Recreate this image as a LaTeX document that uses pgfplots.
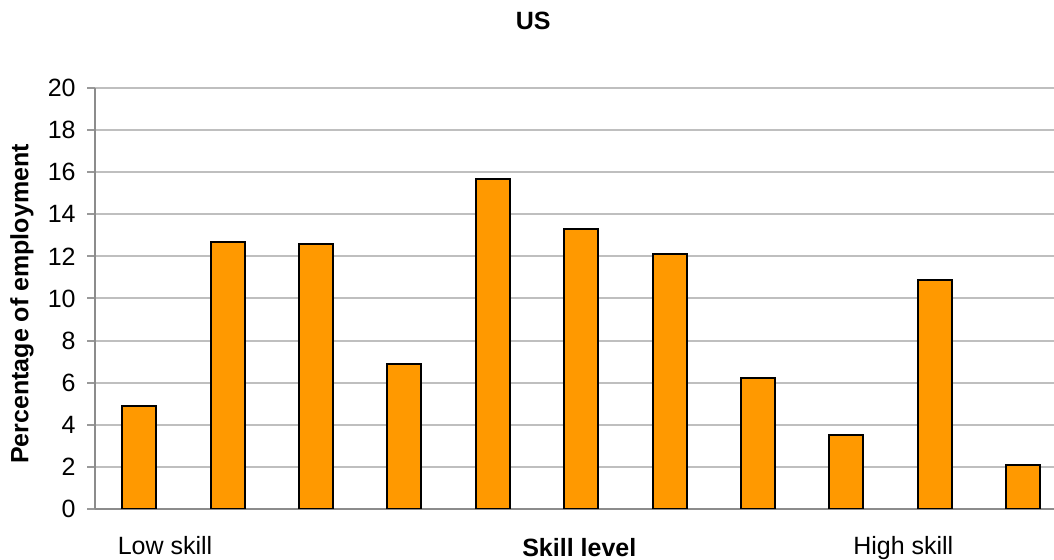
\documentclass[border=0pt]{standalone}
\usepackage{pgfplots}
\pgfplotsset{compat=1.18}
\usepackage{fontspec}
\setmainfont{Liberation Sans}
\definecolor{barorange}{HTML}{FF9900}
\begin{document}
\fontsize{12.5}{14}\selectfont
\begin{tikzpicture}
\begin{axis}[
  scale only axis, width=479.5pt, height=210.5pt,
  xmin=-0.5, xmax=10.35, ymin=0, ymax=20,
  ytick={0,2,...,20},
  xtick={0.292,8.645}, xticklabels={Low skill, High skill},
  major x tick style={draw=none},
  axis x line*=bottom, axis y line*=left,
  axis line style={draw=black!45, line width=1pt, -},
  ymajorgrids, grid style={draw=black!25, line width=1pt},
  major y tick style={draw=black!40, line width=1pt},
  tick align=outside, major tick length=4pt,
  /pgf/number format/assume math mode=true,
  tick label style={font=\fontsize{12.5}{14}\selectfont},
  yticklabel style={anchor=east, inner sep=0pt, xshift=-5.5pt},
  xticklabel style={anchor=base, inner sep=0pt, yshift=-19pt},
  ybar, bar width=17pt,
  title={US},
  title style={at={(axis description cs:0.457,1)}, anchor=base, yshift=23pt, font=\bfseries\fontsize{12.5}{14}\selectfont},
  xlabel={Skill level},
  xlabel style={at={(axis description cs:0.505,0)}, anchor=base, yshift=-24pt, font=\bfseries\fontsize{12.5}{14}\selectfont},
  ylabel={Percentage of employment},
  ylabel style={at={(axis description cs:-0.0761,0.487)}, rotate=0, anchor=center, font=\bfseries\fontsize{12.5}{14}\selectfont},
]
\addplot[fill=barorange, draw=black, line width=1pt] coordinates {
  (0,4.9) (1,12.7) (2,12.6) (3,6.9) (4,15.7) (5,13.3) (6,12.1) (7,6.2) (8,3.5) (9,10.9) (10,2.1)
};
\coordinate (sw) at (rel axis cs:0,0);
\end{axis}
\pgfresetboundingbox
\useasboundingbox (sw) ++(-47.5pt,-25.5pt) rectangle ++(527pt,280pt);
\end{tikzpicture}
\end{document}
